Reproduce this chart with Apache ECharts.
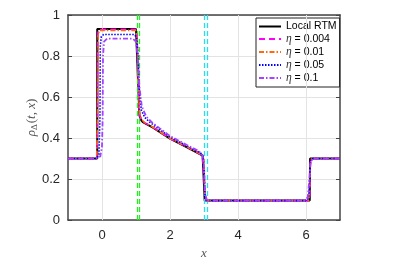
<!DOCTYPE html>
<html><head><meta charset="utf-8">
<script src="https://cdn.jsdelivr.net/npm/echarts@6/dist/echarts.min.js"></script>
<style>html,body{margin:0;padding:0;background:#fff}#c{width:410px;height:265px}</style>
</head><body><div id="c"></div>
<script>
// ---- data ----
const xTicks = [0, 2, 4, 6];
const greenLines = [1.04, 1.11];
const cyanLines = [3.0, 3.09];

const localX = [-1, -0.14, -0.14, 1.0, 1.1, 1.15, 1.2, 1.5, 2.0, 2.5, 2.96, 3.02, 6.11, 6.12, 7];
const localY = [0.3, 0.3, 0.932, 0.932, 0.51, 0.488, 0.478, 0.451, 0.397, 0.355, 0.315, 0.095, 0.095, 0.3, 0.3];

const e004X = [-1, -0.15, -0.13, -0.12, -0.1, 1.0, 1.03, 1.1, 1.15, 1.2, 1.5, 2.0, 2.5, 2.95, 2.99, 3.03, 3.06, 6.09, 6.11, 6.13, 6.15, 7];
const e004Y = [0.3, 0.3, 0.5, 0.92, 0.93, 0.93, 0.9, 0.515, 0.49, 0.479, 0.452, 0.398, 0.356, 0.317, 0.31, 0.12, 0.095, 0.095, 0.12, 0.28, 0.3, 0.3];

const e01X = [-1, -0.16, -0.13, -0.11, -0.08, 0.99, 1.03, 1.1, 1.16, 1.22, 1.5, 2.0, 2.5, 2.94, 2.99, 3.03, 3.07, 6.08, 6.1, 6.13, 6.16, 7];
const e01Y = [0.3, 0.3, 0.45, 0.9, 0.925, 0.925, 0.89, 0.53, 0.495, 0.48, 0.453, 0.399, 0.357, 0.318, 0.305, 0.13, 0.095, 0.095, 0.13, 0.27, 0.3, 0.3];

const e05X = [-1, -0.16, -0.09, -0.06, -0.05, -0.02, 0.05, 0.95, 1.02, 1.06, 1.1, 1.16, 1.26, 1.4, 2.0, 2.5, 2.9, 2.97, 3.0, 3.03, 3.07, 3.15, 6.0, 6.08, 6.11, 6.13, 6.2, 7];
const e05Y = [0.3, 0.3, 0.32, 0.5, 0.85, 0.895, 0.905, 0.905, 0.89, 0.8, 0.62, 0.535, 0.5, 0.478, 0.405, 0.362, 0.327, 0.31, 0.25, 0.12, 0.097, 0.095, 0.095, 0.11, 0.2, 0.29, 0.3, 0.3];

const e1X = [-1, -0.2, -0.05, 0.0, 0.02, 0.03, 0.06, 0.15, 0.9, 1.0, 1.05, 1.1, 1.17, 1.3, 1.5, 2.0, 2.5, 2.85, 2.95, 3.0, 3.03, 3.08, 3.2, 5.95, 6.05, 6.1, 6.13, 6.2, 7];
const e1Y = [0.3, 0.3, 0.31, 0.36, 0.5, 0.8, 0.87, 0.885, 0.885, 0.87, 0.8, 0.65, 0.555, 0.505, 0.472, 0.41, 0.366, 0.336, 0.316, 0.26, 0.13, 0.1, 0.095, 0.095, 0.11, 0.2, 0.28, 0.3, 0.3];

const zip = (xs, ys) => xs.map((x, i) => [x, ys[i]]);

const chart = echarts.init(document.getElementById('c'));
const axisCol = '#262626';
const labelFont = {color: axisCol, fontSize: 13, fontFamily: 'Liberation Sans, Arial, sans-serif'};
const legendRich = {
  i: {fontFamily: 'Liberation Serif, serif', fontStyle: 'italic', fontSize: 11.5, color: '#333'},
  t: {fontFamily: 'Liberation Sans, Arial, sans-serif', fontSize: 10.5, color: '#000'}
};
function lineSeries(name, data, color, width, type, z) {
  return {
    name, type: 'line', data, showSymbol: false, symbol: 'none', z,
    lineStyle: {color, width, type}, itemStyle: {color},
    xAxisIndex: 0, yAxisIndex: 0, animation: false
  };
}
const option = {
  animation: false,
  grid: {left: 68, right: 70, top: 15, bottom: 44},
  xAxis: [{
    type: 'value', min: -1, max: 7, position: 'bottom',
    axisLine: {show: true, onZero: false, lineStyle: {color: '#444', width: 1.5}},
    axisTick: {show: true, inside: true, length: 4, customValues: xTicks, lineStyle: {color: '#444'}},
    axisLabel: {customValues: xTicks, margin: 9, ...labelFont},
    splitLine: {show: false},
    name: 'x', nameLocation: 'middle', nameGap: 23,
    nameTextStyle: {fontFamily: 'Liberation Serif, serif', fontStyle: 'italic', fontSize: 13, color: '#555'}
  }, {
    type: 'value', min: -1, max: 7, position: 'top',
    axisLine: {show: true, onZero: false, lineStyle: {color: '#444', width: 1.5}},
    axisTick: {show: true, inside: true, length: 4, customValues: xTicks, lineStyle: {color: '#444'}},
    axisLabel: {show: false}, splitLine: {show: false}
  }],
  yAxis: [{
    type: 'value', min: 0, max: 1, interval: 0.2, position: 'left',
    axisLine: {show: true, onZero: false, lineStyle: {color: '#444', width: 1.5}},
    axisTick: {show: true, inside: true, length: 4, lineStyle: {color: '#444'}},
    axisLabel: {margin: 8, ...labelFont},
    splitLine: {show: true, lineStyle: {color: '#e3e3e3', width: 1}},
    name: '{r|ρ}{s|Δ}{n|(}{r|t}{n|, }{r|x}{n|)}', nameLocation: 'middle', nameGap: 29, nameRotate: 90,
    nameMoveOverlap: false,
    nameTextStyle: {
      rich: {
        r: {fontFamily: 'Liberation Serif, serif', fontStyle: 'italic', fontSize: 13, color: '#555'},
        s: {fontFamily: 'Liberation Serif, serif', fontSize: 9, color: '#555', padding: [6, 1, 0, 0]},
        n: {fontFamily: 'Liberation Serif, serif', fontSize: 13, color: '#555'}
      }
    }
  }, {
    type: 'value', min: 0, max: 1, interval: 0.2, position: 'right',
    axisLine: {show: true, onZero: false, lineStyle: {color: '#444', width: 1.5}},
    axisTick: {show: true, inside: true, length: 4, lineStyle: {color: '#444'}},
    axisLabel: {show: false}, splitLine: {show: false}
  }],
  legend: {
    orient: 'vertical', left: 256, top: 18,
    padding: [3, 3, 3, 2], itemGap: 1, itemWidth: 22, itemHeight: 10,
    itemStyle: {opacity: 0},
    backgroundColor: '#fff', borderColor: '#222', borderWidth: 1, borderRadius: 0,
    textStyle: {fontSize: 10.5, lineHeight: 11, color: '#000', fontFamily: 'Liberation Sans, Arial, sans-serif', rich: legendRich},
    formatter: function (n) {
      if (n === 'Local RTM') return '{t|Local RTM}';
      return '{i|η}{t| = ' + n.split('=')[1].trim() + '}';
    },
    data: ['Local RTM', 'η = 0.004', 'η = 0.01', 'η = 0.05', 'η = 0.1']
  },
  series: [
    {
      type: 'line', data: [], silent: true, z: 1, xAxisIndex: 0, yAxisIndex: 0,
      markLine: {
        silent: true, symbol: 'none', label: {show: false}, animation: false,
        lineStyle: {color: '#e3e3e3', width: 1, type: 'solid'},
        data: xTicks.map(v => ({xAxis: v}))
      }
    },
    {
      type: 'line', data: [], silent: true, z: 3, xAxisIndex: 0, yAxisIndex: 0,
      markLine: {
        silent: true, symbol: 'none', label: {show: false}, animation: false,
        data: greenLines.map(v => ({xAxis: v, lineStyle: {color: '#22ee22', width: 1.3, type: [5, 3]}}))
          .concat(cyanLines.map(v => ({xAxis: v, lineStyle: {color: '#22e0f0', width: 1.3, type: [5, 3]}})))
      }
    },
    lineSeries('Local RTM', zip(localX, localY), '#000000', 2, 'solid', 4),
    lineSeries('η = 0.004', zip(e004X, e004Y), '#ff00ff', 1.6, [6, 4], 5),
    lineSeries('η = 0.01', zip(e01X, e01Y), '#ff6a10', 1.6, [5, 2, 1.5, 2], 6),
    lineSeries('η = 0.05', zip(e05X, e05Y), '#0000ff', 1.6, [1.5, 1.5], 7),
    lineSeries('η = 0.1', zip(e1X, e1Y), '#a442ff', 1.8, [5, 2, 1.5, 2], 8)
  ]
};
chart.setOption(option);
</script></body></html>
